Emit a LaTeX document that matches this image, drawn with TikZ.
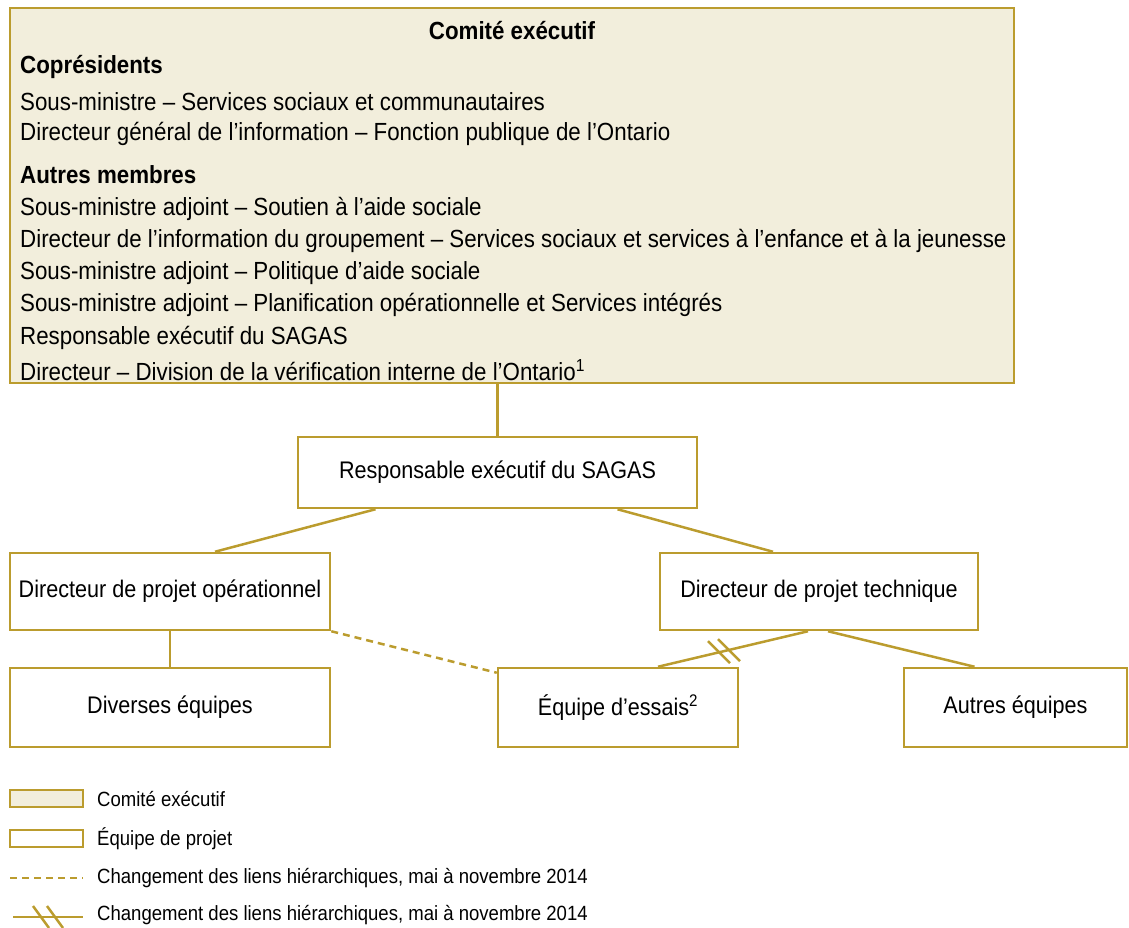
\documentclass[tikz,border=0pt]{standalone}
\usepackage{fontspec}
\setmainfont{Liberation Sans}[FakeStretch=0.9]
\definecolor{gold}{RGB}{187,156,46}
\definecolor{beige}{RGB}{242,238,220}

\begin{document}
\begin{tikzpicture}
        [x=1pt, y=1pt,
        exec/.style={draw=gold, fill=beige, line width=2.5pt, inner sep=0pt},
        team/.style={draw=gold, fill=white, line width=2.5pt, inner sep=0pt, font=\fontsize{24}{28}\selectfont},
        txt/.style={anchor=west, inner sep=0pt, font=\fontsize{24.8}{28}\selectfont},
        head/.style={txt, font=\fontsize{24.8}{28}\selectfont\bfseries},
        legtxt/.style={anchor=west, inner sep=0pt, font=\fontsize{20.6}{24}\selectfont},
        link/.style={gold, line width=2.5pt},
        changed/.style={link, dash pattern=on 7pt off 5pt}]

        \useasboundingbox (0,0) rectangle (1129,-928);

        % Executive committee box
        \node[exec, minimum width=1004, minimum height=375] (comite) at (512,-195.5) {};
        \node[head, anchor=center] (titre) at (512,-31) {Comité exécutif};
        \node[head] (copres) at (20,-67) {Coprésidents};
        \node[txt] (m1) at (20,-102) {Sous-ministre – Services sociaux et communautaires};
        \node[txt] (m2) at (20,-134) {Directeur général de l’information – Fonction publique de l’Ontario};
        \node[head] (autres) at (20,-175) {Autres membres};
        \node[txt] (m3) at (20,-209) {Sous-ministre adjoint – Soutien à l’aide sociale};
        \node[txt] (m4) at (20,-241) {Directeur de l’information du groupement – Services sociaux et services à l’enfance et à la jeunesse};
        \node[txt] (m5) at (20,-273) {Sous-ministre adjoint – Politique d’aide sociale};
        \node[txt] (m6) at (20,-305) {Sous-ministre adjoint – Planification opérationnelle et Services intégrés};
        \node[txt] (m7) at (20,-338) {Responsable exécutif du SAGAS};
        \node[txt] (m8) at (20,-370) {Directeur – Division de la vérification interne de l’Ontario\textsuperscript{1}};

        % Project team boxes
        \node[team, minimum width=399, minimum height=71] (resp) at (497.5,-472.5) {Responsable exécutif du SAGAS};
        \node[team, minimum width=320, minimum height=77] (oper) at (170,-591.5) {Directeur de projet opérationnel};
        \node[team, minimum width=318, minimum height=77] (tech) at (819,-591.5) {Directeur de projet technique};
        \node[team, minimum width=320, minimum height=79] (divers) at (170,-707.5) {Diverses équipes};
        \node[team, minimum width=240, minimum height=79] (essais) at (618,-707.5) {Équipe d’essais\textsuperscript{2}};
        \node[team, minimum width=223, minimum height=79] (autreq) at (1015.5,-707.5) {Autres équipes};

        % Reporting lines
        \draw[link] (resp.north) -- (resp.north |- comite.south);
        \draw[link] ([xshift=-122]resp.south) -- ([xshift=45]oper.north);
        \draw[link] ([xshift=120]resp.south) -- ([xshift=-46]tech.north);
        \draw[link] (oper.south) -- (divers.north);
        \draw[link] ([xshift=-11]tech.south) -- ([xshift=40]essais.north) coordinate[pos=0.56] (brk);
        \draw[link] ([xshift=9]tech.south) -- ([xshift=-41]autreq.north);
        \draw[changed] (oper.south east) -- ([yshift=-6]essais.north west);

        % break marks
        \draw[link] ([shift={(-16,10)}]brk) -- ([shift={(6,-12)}]brk);
        \draw[link] ([shift={(-6,12)}]brk) -- ([shift={(16,-10)}]brk);

        % Legend
        \node[exec, minimum width=73, minimum height=17] (lexec) at (46.5,-798.5) {};
        \node[legtxt] (lexect) at (97,-799) {Comité exécutif};
        \node[team, minimum width=73, minimum height=17] (lteam) at (46.5,-838.5) {};
        \node[legtxt] (lteamt) at (97,-839) {Équipe de projet};
        \coordinate (ld1) at (10,-878);
        \coordinate (ld2) at (83,-878);
        \draw[changed] (ld1) -- (ld2);
        \node[legtxt] (ldasht) at (97,-878) {Changement des liens hiérarchiques, mai à novembre 2014};
        \coordinate (lb1) at (13,-917);
        \coordinate (lb2) at (83,-917);
        \draw[link] (lb1) -- (lb2);
        \draw[link] (33,-906) -- (49,-928);
        \draw[link] (47,-906) -- (63,-928);
        \node[legtxt] (lbrkt) at (97,-915) {Changement des liens hiérarchiques, mai à novembre 2014};
\end{tikzpicture}
\end{document}
